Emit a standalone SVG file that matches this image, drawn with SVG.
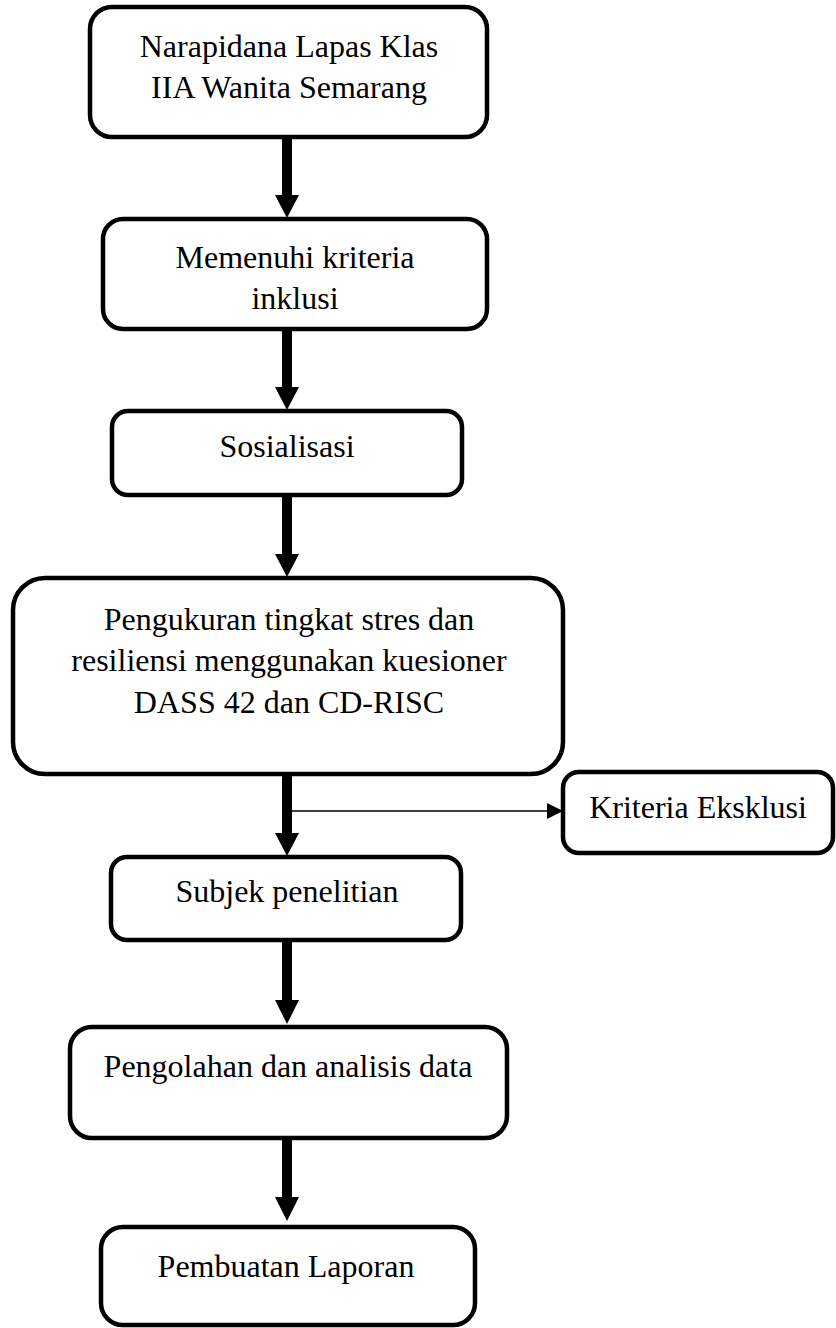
<svg xmlns="http://www.w3.org/2000/svg" width="836" height="1328" viewBox="0 0 836 1328">
<style>
.box{fill:#fff;stroke:#000;stroke-width:4.5}
.t{font-family:"Liberation Serif","Times New Roman",serif;font-size:32px;fill:#000;text-anchor:middle}
.shaft{stroke:#000;stroke-width:10;fill:none}
.head{fill:#000}
.thin{stroke:#000;stroke-width:1.6;fill:none}
</style>
<rect width="836" height="1328" fill="#fff"/>
<g id="connectors">
<line class="shaft" x1="287" y1="137" x2="287" y2="198"/>
<polygon class="head" points="275,195 299,195 287,218"/>
<line class="shaft" x1="287" y1="329" x2="287" y2="390"/>
<polygon class="head" points="275,387 299,387 287,410"/>
<line class="shaft" x1="287" y1="495" x2="287" y2="557"/>
<polygon class="head" points="275,554 299,554 287,577"/>
<line class="shaft" x1="287" y1="774" x2="287" y2="836"/>
<polygon class="head" points="275,833 299,833 287,856"/>
<line class="thin" x1="287" y1="811" x2="549" y2="811"/>
<polygon class="head" points="547,803 563,811 547,819"/>
<line class="shaft" x1="287" y1="940" x2="287" y2="1003"/>
<polygon class="head" points="275,1000 299,1000 287,1024"/>
<line class="shaft" x1="287" y1="1138" x2="287" y2="1200"/>
<polygon class="head" points="275,1197 299,1197 287,1221"/>
</g>
<g id="n1">
<rect class="box" x="90" y="7" width="397" height="130" rx="22"/>
<text class="t" x="289" y="57">Narapidana Lapas Klas</text>
<text class="t" x="289" y="98">IIA Wanita Semarang</text>
</g>
<g id="n2">
<rect class="box" x="103" y="219" width="384" height="110" rx="20"/>
<text class="t" x="295" y="268">Memenuhi kriteria</text>
<text class="t" x="295" y="309">inklusi</text>
</g>
<g id="n3">
<rect class="box" x="112" y="411" width="350" height="84" rx="16"/>
<text class="t" x="287" y="457">Sosialisasi</text>
</g>
<g id="n4">
<rect class="box" x="13" y="578" width="550" height="196" rx="32"/>
<text class="t" x="289" y="630">Pengukuran tingkat stres dan</text>
<text class="t" x="289" y="671">resiliensi menggunakan kuesioner</text>
<text class="t" x="289" y="713">DASS 42 dan CD-RISC</text>
</g>
<g id="n5">
<rect class="box" x="563" y="772" width="270" height="81" rx="16"/>
<text class="t" x="698" y="818">Kriteria Eksklusi</text>
</g>
<g id="n6">
<rect class="box" x="111" y="857" width="350" height="83" rx="16"/>
<text class="t" x="287" y="902">Subjek penelitian</text>
</g>
<g id="n7">
<rect class="box" x="70" y="1027" width="437" height="111" rx="22"/>
<text class="t" x="288" y="1077">Pengolahan dan analisis data</text>
</g>
<g id="n8">
<rect class="box" x="101" y="1227" width="374" height="98" rx="22"/>
<text class="t" x="286" y="1277">Pembuatan Laporan</text>
</g>
</svg>
